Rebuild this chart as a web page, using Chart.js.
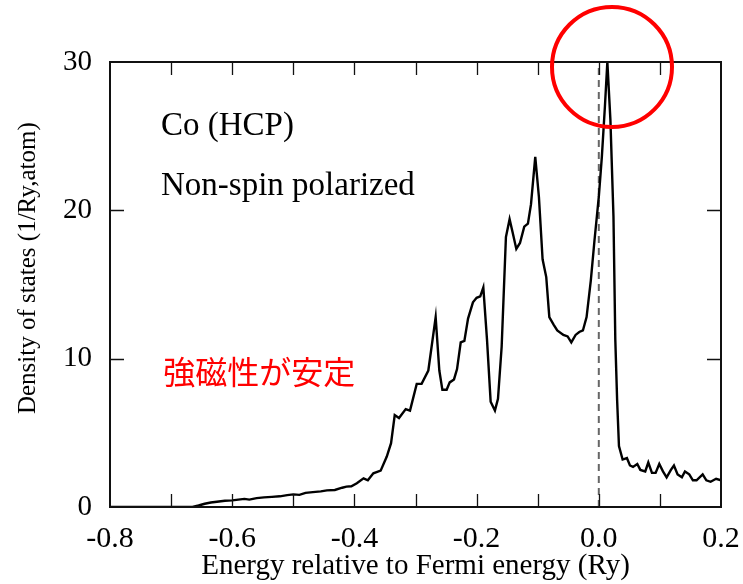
<!DOCTYPE html>
<html>
<head>
<meta charset="utf-8">
<script src="https://cdn.jsdelivr.net/npm/chart.js@4.4.0/dist/chart.umd.min.js"></script>
<style>
  html, body { margin: 0; padding: 0; background: #fff; }
  #wrap { width: 743px; height: 584px; }
</style>
</head>
<body>
<div id="wrap"><canvas id="dosChart" width="743" height="584"></canvas></div>
<script>
// energy (Ry, relative to E_F) and density of states (1/Ry,atom)
const energy = [
  -0.800, -0.665, -0.655, -0.645, -0.635, -0.625, -0.612, -0.600, -0.590, -0.580,
  -0.572, -0.560, -0.548, -0.535, -0.522, -0.510, -0.500, -0.490, -0.480, -0.468,
  -0.455, -0.445, -0.432, -0.420, -0.413, -0.405, -0.396, -0.385, -0.378, -0.369,
  -0.357, -0.347, -0.340, -0.334, -0.327, -0.316, -0.309, -0.298, -0.290, -0.279,
  -0.267, -0.261, -0.256, -0.249, -0.244, -0.237, -0.232, -0.226, -0.220, -0.214,
  -0.206, -0.200, -0.194, -0.189, -0.183, -0.177, -0.170, -0.165, -0.159, -0.152,
  -0.146, -0.141, -0.135, -0.129, -0.122, -0.116, -0.111, -0.104, -0.098, -0.092,
  -0.086, -0.081, -0.074, -0.068, -0.058, -0.051, -0.045, -0.038, -0.032, -0.026,
  -0.020, -0.013, -0.007, 0.000, 0.005, 0.010, 0.014, 0.019, 0.024, 0.027,
  0.030, 0.033, 0.039, 0.046, 0.051, 0.056, 0.063, 0.068, 0.076, 0.081,
  0.087, 0.093, 0.099, 0.105, 0.111, 0.118, 0.123, 0.129, 0.136, 0.141,
  0.148, 0.154, 0.160, 0.170, 0.176, 0.183, 0.192, 0.200
];
const dos = [
  0, 0, 0.1, 0.22, 0.3, 0.35, 0.42, 0.45, 0.5, 0.55,
  0.5, 0.6, 0.65, 0.68, 0.72, 0.8, 0.85, 0.82, 0.95, 1.0,
  1.05, 1.12, 1.15, 1.3, 1.37, 1.4, 1.6, 1.93, 1.8, 2.27,
  2.45, 3.4, 4.3, 6.2, 6.0, 6.6, 6.5, 8.3, 8.3, 9.2,
  12.8, 9.2, 7.9, 7.9, 8.4, 8.6, 9.3, 11.1, 11.2, 12.7,
  13.8, 14.1, 14.2, 14.8, 11.3, 7.1, 6.5, 7.3, 10.8, 18.2,
  19.4, 18.5, 17.4, 17.8, 18.9, 19.1, 20.4, 23.6, 20.9, 16.7,
  15.5, 12.8, 12.3, 11.9, 11.6, 11.5, 11.1, 11.6, 11.8, 11.9,
  12.8, 15.3, 18.0, 20.9, 23.6, 27.0, 30.0, 26.1, 19.6, 11.3,
  7.2, 4.1, 3.2, 3.3, 2.8, 2.7, 2.9, 2.5, 2.4, 3.0,
  2.3, 2.3, 2.9, 2.4, 2.0, 2.5, 2.8, 2.2, 2.0, 2.4,
  2.2, 1.8, 1.8, 2.2, 1.8, 1.7, 1.9, 1.8
];

const xRange = [-0.8, 0.2];
const yRange = [0, 30];
const fermiX = [0, 0];
const fermiY = [0, 30];

const yTitle = "Density of states (1/Ry,atom)";
const noteTexts = ["Co (HCP)", "Non-spin polarized", "強磁性が安定"];
const noteX = [-0.7165, -0.7165, -0.713];
const noteY = [25.1, 21.05, 8.3];
const noteColors = ["#000", "#000", "#ff0000"];
const noteFonts = [
  "33px 'Liberation Serif', 'Times New Roman', serif",
  "33px 'Liberation Serif', 'Times New Roman', serif",
  "32px 'Noto Sans CJK JP', sans-serif"
];

// red circle around the peak at E_F
const circleAt = { x: 0.0216, y: 29.67, r: 60 };

const SERIF = "'Liberation Serif', 'Times New Roman', serif";

// box frame + inward ticks + notes + circle
const framePlugin = {
  id: "frame",
  afterDatasetsDraw(chart) {
    const { ctx, chartArea: a, scales } = chart;
    const xs = scales.x, ys = scales.y;
    ctx.save();
    ctx.strokeStyle = "#111";
    ctx.lineWidth = 1.3;
    xs.ticks.forEach((t) => {
      const px = Math.round(xs.getPixelForValue(t.value)) + 0.5;
      if (px <= a.left + 1 || px >= a.right - 1) return;
      ctx.beginPath();
      ctx.moveTo(px, a.bottom); ctx.lineTo(px, a.bottom - 13);
      ctx.moveTo(px, a.top); ctx.lineTo(px, a.top + 13);
      ctx.stroke();
    });
    ys.ticks.forEach((t) => {
      const py = Math.round(ys.getPixelForValue(t.value)) + 0.5;
      if (py <= a.top + 1 || py >= a.bottom - 1) return;
      ctx.beginPath();
      ctx.moveTo(a.left, py); ctx.lineTo(a.left + 14, py);
      ctx.moveTo(a.right, py); ctx.lineTo(a.right - 14, py);
      ctx.stroke();
    });
    ctx.lineWidth = 2;
    ctx.strokeRect(a.left, a.top, a.right - a.left, a.bottom - a.top);

    ctx.textBaseline = "alphabetic";
    ctx.textAlign = "left";
    noteTexts.forEach((txt, i) => {
      ctx.font = noteFonts[i];
      ctx.fillStyle = noteColors[i];
      ctx.fillText(txt, xs.getPixelForValue(noteX[i]), ys.getPixelForValue(noteY[i]));
    });

    // y axis title, a bit above the axis middle like the original
    ctx.save();
    ctx.translate(28, ys.getPixelForValue(16.1));
    ctx.rotate(-Math.PI / 2);
    ctx.textAlign = "center";
    ctx.textBaseline = "middle";
    ctx.font = "25px " + SERIF;
    ctx.fillStyle = "#000";
    ctx.fillText(yTitle, 0, 0);
    ctx.restore();

    ctx.strokeStyle = "#ff0000";
    ctx.lineWidth = 4;
    ctx.beginPath();
    ctx.arc(xs.getPixelForValue(circleAt.x), ys.getPixelForValue(circleAt.y), circleAt.r, 0, Math.PI * 2);
    ctx.stroke();
    ctx.restore();
  },
};

new Chart(document.getElementById("dosChart"), {
  type: "line",
  data: {
    datasets: [
      {
        label: "DOS",
        data: energy.map((e, i) => ({ x: e, y: dos[i] })),
        borderColor: "#000",
        borderWidth: 2.4,
        pointRadius: 0,
        tension: 0,
        order: 1,
      },
      {
        label: "E_F",
        data: fermiX.map((e, i) => ({ x: e, y: fermiY[i] })),
        borderColor: "#666",
        borderWidth: 2,
        borderDash: [7, 5],
        pointRadius: 0,
        order: 2,
      },
    ],
  },
  options: {
    responsive: false,
    animation: false,
    devicePixelRatio: 1,
    layout: { padding: { top: 62, right: 22, left: 0, bottom: 0 } },
    plugins: { legend: { display: false }, tooltip: { enabled: false } },
    scales: {
      x: {
        type: "linear",
        min: xRange[0],
        max: xRange[1],
        grid: { display: false },
        border: { display: false },
        ticks: {
          stepSize: 0.1,
          autoSkip: false,
          maxRotation: 0,
          padding: 6,
          color: "#000",
          font: { family: SERIF, size: 30 },
          callback: (v) => {
            const k = Math.round(v * 10);
            if (k % 2 !== 0) return "";
            return (k / 10).toFixed(1);
          },
        },
        title: {
          display: true,
          text: "Energy relative to Fermi energy (Ry)",
          color: "#000",
          font: { family: SERIF, size: 29 },
          padding: { top: 0, bottom: 0 },
        },
        afterFit: (s) => {
          s.height = 77;
          s.paddingLeft = 0;
          s.paddingRight = 0;
        },
      },
      y: {
        min: yRange[0],
        max: yRange[1],
        grid: { display: false },
        border: { display: false },
        ticks: {
          stepSize: 10,
          padding: 10,
          color: "#000",
          font: { family: SERIF, size: 29 },
        },
        afterFit: (s) => {
          s.width = 110;
          s.paddingTop = 0;
          s.paddingBottom = 0;
        },
      },
    },
  },
  plugins: [framePlugin],
});
</script>
</body>
</html>
